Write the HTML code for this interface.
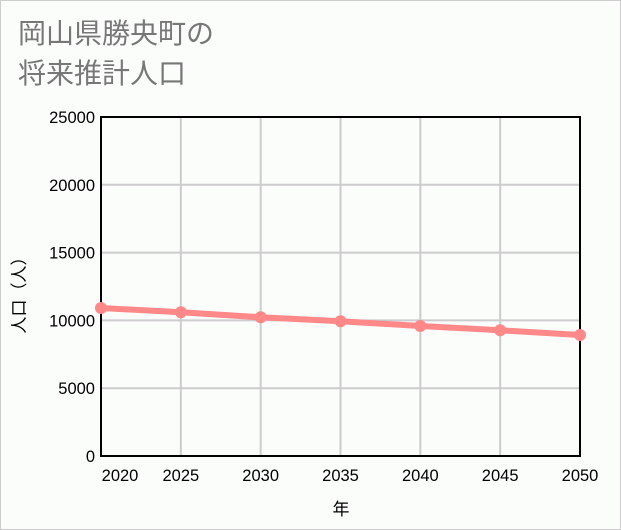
<!DOCTYPE html>
<html><head><meta charset="utf-8"><style>
body{margin:0;background:#fff;}
#wrap{position:relative;width:619px;height:528px;border:1px solid #ccc;background:#fbfdfb;font-family:"Liberation Sans","Noto Sans CJK JP",sans-serif;}
.title{position:absolute;left:17px;font-size:28px;line-height:34px;color:#777;}
</style></head><body>
<div id="wrap">
<div class="title" style="top:16px">岡山県勝央町の</div>
<div class="title" style="top:56px">将来推計人口</div>
<svg id="svg" width="619" height="528" style="position:absolute;left:0;top:0"></svg>
</div>
<script>
const years=[2020,2025,2030,2035,2040,2045,2050];
const population=[10914,10597,10229,9934,9587,9270,8923];
const yTicks=[0,5000,10000,15000,20000,25000];
const xTicks=[2020,2025,2030,2035,2040,2045,2050];
const svg=document.getElementById('svg');
const NS='http://www.w3.org/2000/svg';
const L=100,R=579,T=116,B=455;
const xs=v=>L+(v-2020)/30*(R-L);
const ys=v=>B-v/25000*(B-T);
function mk(t,a){const e=document.createElementNS(NS,t);for(const k in a)e.setAttribute(k,a[k]);svg.appendChild(e);return e;}
yTicks.forEach(v=>{
 const g=mk('line',{x1:L,x2:R,y1:ys(v),y2:ys(v),stroke:'#ccc','stroke-width':2});
 
 
 const t=mk('text',{x:L-6,y:ys(v)+6,'text-anchor':'end','font-size':16.5,fill:'#000'});t.textContent=v;
 
 
});
xTicks.forEach((v,i)=>{
 const g=mk('line',{x1:xs(v),x2:xs(v),y1:T,y2:B,stroke:'#ccc','stroke-width':2});
 
 
 const lx=i==0?xs(v)+19:xs(v);
 const t=mk('text',{x:lx,y:480,'text-anchor':'middle','font-size':16.5,fill:'#000'});t.textContent=v;
 
 
});
const frame=mk('rect',{x:L,y:T,width:R-L,height:B-T,fill:'none',stroke:'#000','stroke-width':2});


const pts=years.map((y,i)=>xs(y)+','+ys(population[i])).join(' ');
const line=mk('polyline',{points:pts,fill:'none',stroke:'#f88','stroke-width':6});


years.forEach((y,i)=>{
 const c=mk('circle',{cx:xs(y),cy:ys(population[i]),r:6,fill:'#f88'});
 
 
});
const xt=mk('text',{x:340,y:514,'text-anchor':'middle','font-size':17,fill:'#000'});xt.textContent='年';


const yt=mk('text',{x:0,y:0,'text-anchor':'middle','font-size':17,fill:'#000',transform:'translate(24,290) rotate(-90)'});yt.textContent='人口（人）';


</script>
</body></html>
